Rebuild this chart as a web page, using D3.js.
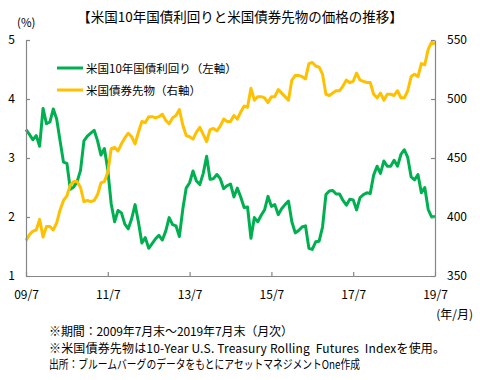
<!DOCTYPE html>
<html><head><meta charset="utf-8">
<script src="https://cdn.jsdelivr.net/npm/d3@7"></script>
<style>
html,body{margin:0;padding:0;background:#fff;}
svg{display:block;font-family:"Noto Sans CJK JP","Noto Sans",sans-serif;}
</style></head><body>
<svg id="c" width="480" height="380"></svg>
<script>
// Monthly, 2009/7 .. 2019/7 (121 points)
const yieldData = [
  3.48,3.40,3.31,3.38,3.20,3.84,
  3.58,3.61,3.83,3.66,3.29,2.93,2.91,2.47,2.51,2.60,2.79,3.29,
  3.37,3.42,3.47,3.29,3.05,3.16,2.80,2.22,1.92,2.11,2.07,1.88,
  1.80,1.97,2.21,1.91,1.56,1.65,1.47,1.55,1.63,1.69,1.61,1.76,
  1.99,1.87,1.85,1.67,2.13,2.49,2.58,2.78,2.61,2.55,2.74,3.03,
  2.64,2.65,2.72,2.65,2.48,2.53,2.56,2.34,2.49,2.34,2.16,2.17,
  1.64,1.99,1.92,2.03,2.12,2.35,2.18,2.21,2.04,2.14,2.21,2.27,
  1.92,1.73,1.77,1.83,1.85,1.47,1.45,1.58,1.59,1.83,2.38,2.44,
  2.45,2.39,2.39,2.28,2.20,2.30,2.29,2.12,2.33,2.38,2.41,2.40,
  2.71,2.86,2.74,2.95,2.86,2.86,2.96,2.86,3.06,3.14,3.01,2.68,
  2.63,2.72,2.41,2.50,2.13,2.00,2.01
];
const futuresData = [
  380,385,388,389,398,383,
  392,392,389,395,406,414,418,427,430,430,425,413,
  414,413,414,419,429,430,438,458,459,456,462,467,
  471,468,462,472,481,480,485,485,484,485,487,482,
  479,484,486,491,478,469,468,466,472,476,470,464,
  474,475,473,477,483,481,481,486,483,489,494,493,
  509,499,502,502,501,497,502,502,508,505,502,499,
  516,520,520,519,517,530,531,528,527,521,504,503,
  505,507,507,511,516,514,515,522,516,515,514,514,
  504,501,505,499,504,504,503,507,501,501,507,519,
  521,519,530,529,542,548,547
];
const tickMonths = [0,24,48,72,96,120];
const tickLabels = ["09/7","11/7","13/7","15/7","17/7","19/7"];
const leftTicks = [1,2,3,4,5];
const rightTicks = [350,400,450,500,550];
const seriesNames = ["米国10年国債利回り（左軸）","米国債券先物（右軸）"];
const seriesColors = ["#00B050","#FFC000"];
const titleText = "【米国10年国債利回りと米国債券先物の価格の推移】";
const notes = [
  "※期間：2009年7月末～2019年7月末（月次）",
  "※米国債券先物は10-Year U.S. Treasury Rolling  Futures  Indexを使用。",
  "出所：ブルームバーグのデータをもとにアセットマネジメントOne作成"
];

const svg = d3.select("#c");
const x = d3.scaleLinear().domain([0, yieldData.length-1]).range([26,435]);
const yL = d3.scaleLinear().domain([1,5]).range([276,40]);
const yR = d3.scaleLinear().domain([350,550]).range([276,40]);
const axisColor = "#868686";

function styleAxis(g){
  g.selectAll(".domain").attr("stroke",axisColor).attr("stroke-width",1.2);
  g.selectAll(".tick line").attr("stroke",axisColor).attr("stroke-width",1.2);
  g.selectAll("text").attr("fill","#000").attr("font-size",12)
   .attr("font-family",'"Noto Sans CJK JP","Noto Sans",sans-serif');
}

// lines
const lineG = svg.append("g");
lineG.append("path").datum(yieldData)
  .attr("fill","none").attr("stroke",seriesColors[0]).attr("stroke-width",3)
  .attr("stroke-linejoin","round")
  .attr("d", d3.line().x((d,i)=>x(i)).y(d=>yL(d)));
lineG.append("path").datum(futuresData)
  .attr("fill","none").attr("stroke",seriesColors[1]).attr("stroke-width",3)
  .attr("stroke-linejoin","round")
  .attr("d", d3.line().x((d,i)=>x(i)).y(d=>yR(d)));

// axes
svg.append("g").attr("transform","translate(26,0)")
  .call(d3.axisLeft(yL).tickValues(leftTicks).tickFormat(d3.format("d"))
    .tickSizeInner(-4).tickSizeOuter(0).tickPadding(11))
  .call(styleAxis);
svg.append("g").attr("transform","translate(435,0)")
  .call(d3.axisRight(yR).tickValues(rightTicks).tickFormat(d3.format("d"))
    .tickSizeInner(-4).tickSizeOuter(0).tickPadding(12))
  .call(styleAxis);
svg.append("g").attr("transform","translate(0,276)")
  .call(d3.axisBottom(x).tickValues(tickMonths).tickFormat((d,i)=>tickLabels[i])
    .tickSizeInner(-4).tickSizeOuter(0).tickPadding(14))
  .call(styleAxis);

// title and axis captions
svg.append("text").attr("x",240).attr("y",22).attr("text-anchor","middle")
  .attr("font-size",13.5).attr("fill","#000").text(titleText);
svg.append("text").attr("x",17).attr("y",27).attr("font-size",11.5).attr("fill","#000").text("(%)");
svg.append("text").attr("x",473).attr("y",319).attr("text-anchor","end")
  .attr("font-size",12).attr("fill","#000").text("(年/月)");

// legend
const leg = svg.append("g");
[68,90].forEach((yy,i)=>{
  leg.append("line").attr("x1",57).attr("x2",83).attr("y1",yy).attr("y2",yy)
    .attr("stroke",seriesColors[i]).attr("stroke-width",3);
  leg.append("text").attr("x",86).attr("y",yy+4.5).attr("font-size",11.5)
    .attr("fill","#000").text(seriesNames[i]);
});

// notes
const noteY=[336,353,369];
const noteLen=[244,396,311];
const noteAdj=["spacing","spacing","spacingAndGlyphs"];
notes.forEach((t,i)=>{
  svg.append("text").attr("x",49).attr("y",noteY[i]).attr("font-size",12)
    .attr("fill","#000").attr("xml:space","preserve").style("white-space","pre")
    .attr("textLength",noteLen[i]).attr("lengthAdjust",noteAdj[i]).text(t);
});
</script>
</body></html>
